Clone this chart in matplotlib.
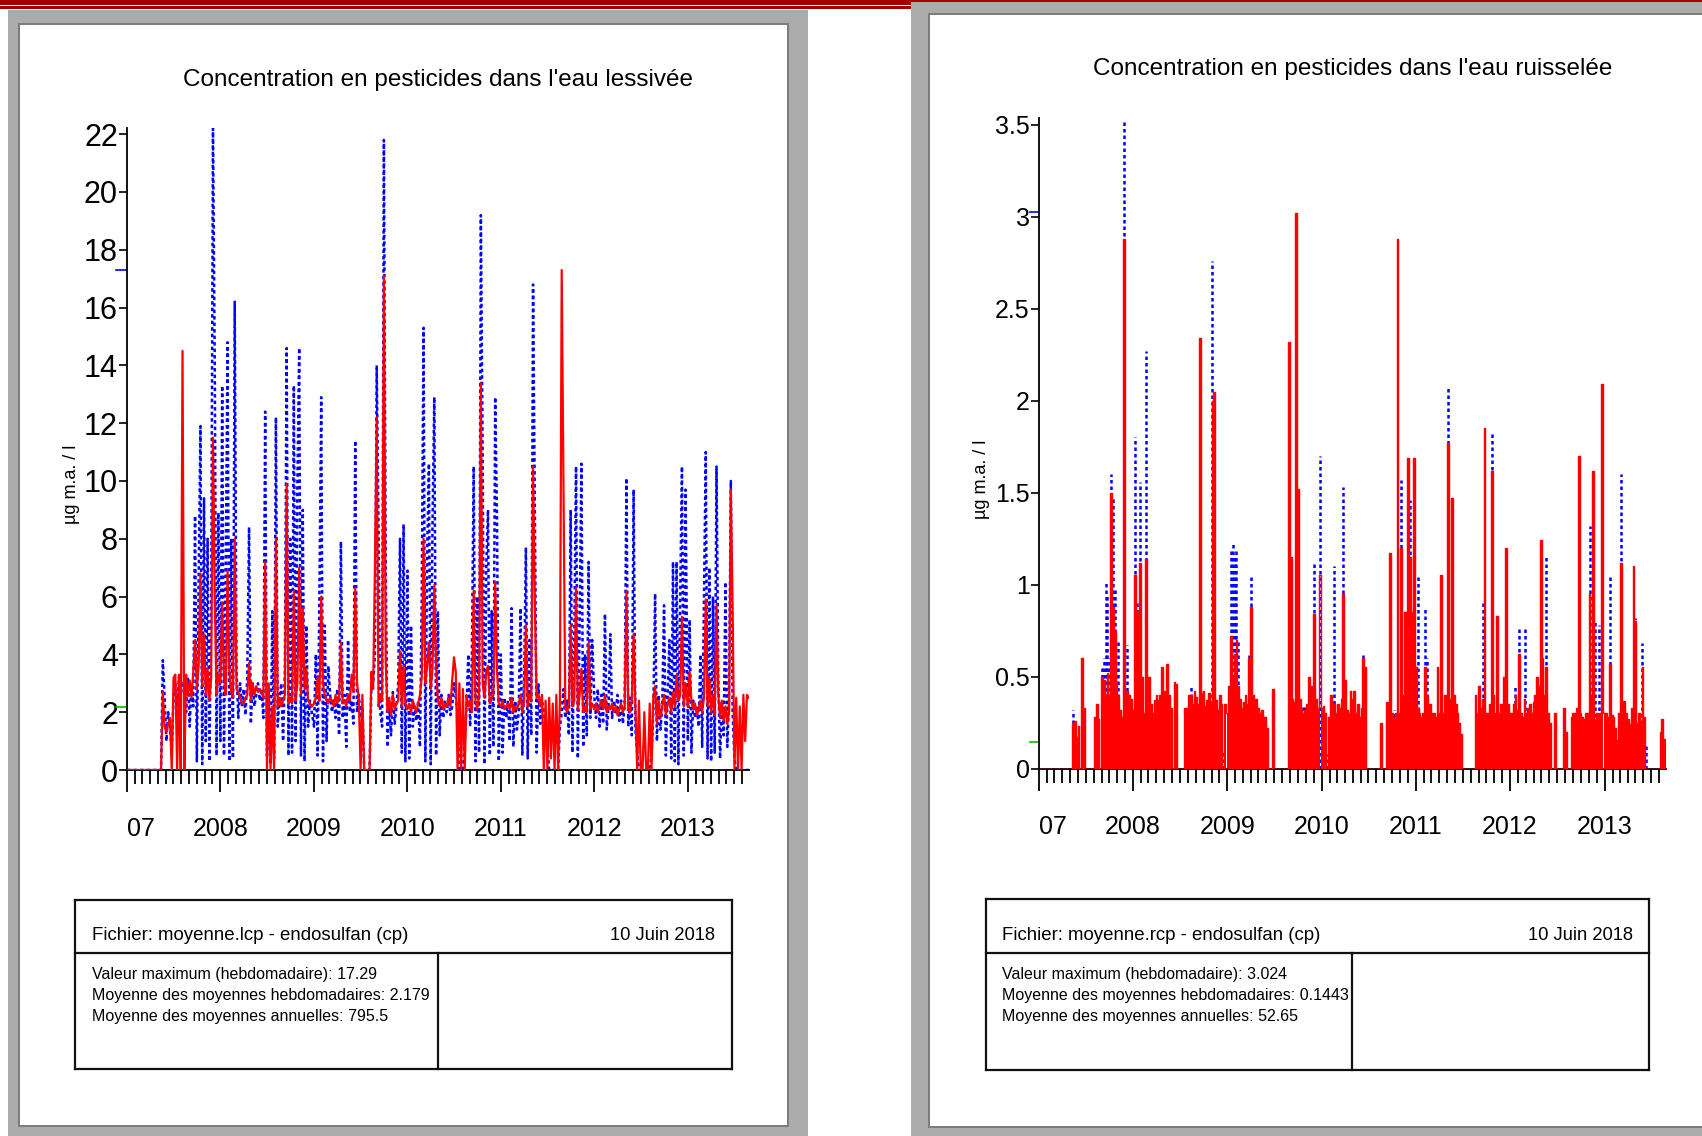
import matplotlib
matplotlib.use('Agg')
import matplotlib.pyplot as plt
import matplotlib.dates as mdates
from matplotlib.patches import Rectangle
from matplotlib.lines import Line2D
import numpy as np

plt.rcParams['font.family'] = ['Liberation Sans', 'DejaVu Sans']

# weekly values, 52 per year from 2007-01-01 (2013: 35 weeks)
lessivee_rouge = [
    # 2007
    0, 0, 0, 0, 0, 0, 0, 0, 0, 0, 0, 0, 0, 0, 0, 0, 0, 0, 0, 0,
    2.7, 1.5, 1.3, 1.6, 1.8, 0, 3.2, 3.3, 0, 3.3, 0, 14.5, 0,
    3.3, 2.6, 3.1, 2.5, 3.4, 4.5, 2.8, 3.6, 6.8, 2.9, 4.7, 2.6, 3.5, 2.4, 3.2, 11.5, 6.0, 2.6, 3.3,
    # 2008
    3.0, 5.8, 3.2, 2.6, 6.9, 3.4, 2.7, 2.5, 8.0, 2.8, 2.7, 2.5, 2.3, 2.3, 2.5, 2.6, 3.7, 2.4, 3.0, 2.6, 2.9, 2.7, 2.8, 2.7, 2.5, 7.2,
    0, 3.0, 0, 2.2, 0, 8.0, 2.2, 2.5, 2.2, 2.4, 2.6, 9.9, 2.3, 2.5, 2.3, 6.2, 2.4, 3.0, 7.0, 2.6, 5.6, 2.8, 3.5, 2.4, 2.3, 2.2,
    # 2009
    2.3, 2.5, 3.2, 2.4, 6.0, 3.0, 2.6, 2.4, 2.3, 2.5, 2.4, 2.2, 2.6, 2.3, 2.5, 4.4, 2.3, 2.4, 2.2, 2.6, 2.4, 3.3, 2.7, 6.3, 3.0, 2.5,
    0, 2.6, 0, 0, 0, 0, 3.4, 2.8, 7.0, 12.2, 2.2, 2.6, 2.4, 17.1, 3.8, 2.0, 2.5, 1.9, 2.6, 2.1, 2.3, 2.4, 4.1, 2.2, 3.6, 2.3,
    # 2010
    2.1, 2.3, 2.0, 2.4, 2.2, 2.0, 2.3, 2.6, 3.2, 8.0, 3.0, 3.6, 4.4, 2.8, 3.5, 6.4, 3.6, 2.4, 2.2, 2.5, 2.1, 2.3, 2.2, 2.5, 2.2, 3.1,
    3.9, 3.4, 0, 3.0, 0, 2.8, 0, 2.6, 2.2, 2.4, 2.0, 6.2, 2.4, 2.1, 2.6, 13.4, 3.0, 2.5, 3.4, 3.6, 2.3, 2.5, 2.6, 6.5, 3.5, 2.3,
    # 2011
    2.2, 2.4, 2.1, 2.2, 2.3, 2.1, 2.5, 2.0, 2.2, 2.1, 2.3, 2.6, 2.0, 2.4, 5.0, 2.2, 2.6, 2.4, 10.5, 5.8, 2.5, 2.6, 2.2, 2.6, 0, 2.4,
    0, 2.5, 0.4, 2.3, 0, 2.6, 0, 2.4, 17.3, 9.7, 2.2, 2.0, 2.3, 5.0, 2.2, 2.4, 6.3, 2.1, 2.6, 3.5, 2.0, 2.2, 2.0, 4.4, 2.1, 2.3,
    # 2012
    2.1, 2.3, 2.0, 2.2, 2.4, 2.1, 2.6, 2.0, 2.2, 2.1, 2.3, 2.0, 2.2, 1.9, 2.1, 2.3, 2.0, 2.2, 6.2, 2.1, 2.0, 2.4, 4.7, 2.2, 0, 2.4,
    0, 0, 2.0, 0, 0, 2.3, 0, 2.5, 2.9, 1.6, 2.4, 1.8, 2.2, 2.6, 1.9, 2.3, 2.5, 2.0, 2.7, 2.2, 3.3, 2.4, 2.6, 5.3, 2.2, 3.0,
    # 2013
    2.2, 3.4, 2.4, 2.1, 2.3, 1.9, 2.1, 2.4, 2.0, 2.5, 5.9, 2.2, 3.2, 2.0, 2.6, 1.9, 5.7, 2.6, 1.8, 2.4, 1.7, 2.2, 1.6, 2.0, 9.7, 5.6,
    0, 2.5, 0, 2.2, 0, 2.6, 1.0, 2.6, 2.5,
]

lessivee_bleu = [
    # 2007
    0, 0, 0, 0, 0, 0, 0, 0, 0, 0, 0, 0, 0, 0, 0, 0, 0, 0, 0, 0,
    3.8, 2.5, 1.0, 2.0, 1.5, 0.6, 2.6, 3.0, 2.2, 3.2, 2.6, 3.0, 3.0,
    2.0, 3.2, 1.5, 3.0, 2.2, 8.8, 0.3, 6.5, 11.9, 0.2, 9.4, 1.0, 8.0, 0.3, 5.5, 22.2, 14.0, 0.5, 8.9,
    # 2008
    1.0, 13.3, 0.5, 7.0, 14.8, 0.3, 8.0, 0.4, 16.2, 3.5, 1.8, 3.0, 2.2, 2.8, 1.9, 3.2, 8.4, 1.6, 3.0, 2.2, 2.6, 3.0, 2.4, 2.8, 1.8, 12.4,
    0.5, 2.0, 0.2, 5.5, 0.4, 12.2, 1.5, 2.5, 3.0, 1.0, 3.4, 14.6, 0.5, 8.0, 0.6, 13.3, 1.0, 10.0, 14.6, 0.5, 9.0, 0.3, 5.0, 1.5, 2.4, 2.0,
    # 2009
    1.5, 4.0, 0.5, 6.0, 12.9, 0.3, 5.0, 1.0, 3.6, 2.6, 2.0, 2.4, 1.8, 2.8, 1.2, 7.9, 1.8, 2.6, 0.8, 4.5, 2.0, 2.4, 1.6, 11.4, 2.0, 2.6,
    1.8, 2.2, 0, 0, 0, 0, 2.8, 3.0, 4.0, 14.0, 8.5, 2.0, 1.5, 21.8, 7.3, 0.8, 2.2, 1.2, 2.7, 1.6, 2.2, 3.0, 8.0, 0.6, 8.5, 0.3,
    # 2010
    6.9, 0.4, 5.0, 1.5, 2.2, 1.7, 2.4, 0.8, 6.0, 15.3, 0.3, 7.5, 10.6, 0.2, 8.5, 12.9, 0.5, 5.5, 1.2, 2.6, 1.8, 2.4, 2.0, 2.6, 1.9, 2.2,
    3.0, 2.5, 2.0, 0, 0, 0, 1.0, 2.2, 4.0, 1.5, 4.0, 10.5, 0.3, 6.0, 0.6, 19.2, 11.0, 0.2, 7.0, 9.0, 0.5, 5.5, 0.8, 12.9, 8.8, 0.3,
    # 2011
    4.0, 0.6, 2.5, 1.8, 2.4, 1.0, 5.6, 0.8, 2.4, 1.4, 2.0, 5.6, 0.5, 3.0, 7.7, 0.4, 4.5, 1.2, 16.8, 9.1, 0.6, 3.0, 1.6, 2.4, 2.0, 1.5,
    0.8, 0, 0, 0, 0, 0, 0, 1.5, 2.0, 2.8, 1.8, 2.4, 1.2, 9.0, 0.6, 4.5, 10.5, 0.4, 5.0, 10.6, 0.8, 4.0, 1.2, 7.2, 1.8, 4.5,
    # 2012
    2.6, 1.8, 2.8, 1.5, 2.6, 1.6, 5.4, 1.4, 2.2, 4.7, 1.8, 2.4, 2.0, 2.6, 1.7, 2.4, 1.6, 2.2, 10.1, 1.5, 2.5, 1.2, 9.7, 1.4, 0.6, 0,
    0, 0, 0, 0, 0, 0, 0.5, 2.0, 6.1, 1.0, 2.6, 1.4, 2.2, 5.7, 0.5, 2.6, 4.5, 0.4, 7.2, 0.3, 7.2, 0.2, 6.0, 10.5, 0.5, 9.7,
    # 2013
    1.0, 5.2, 0.6, 2.4, 1.8, 2.2, 1.5, 4.0, 0.8, 6.0, 11.0, 0.4, 7.0, 0.3, 6.0, 0.6, 10.5, 3.2, 0.4, 2.4, 1.2, 6.5, 0.8, 2.4, 10.0, 2.0,
    0.4, 0, 0, 0, 0, 0, 0, 0, 0,
]

ruisselee_rouge = [
    # 2007
    0, 0, 0, 0, 0, 0, 0, 0, 0, 0, 0, 0, 0, 0, 0, 0, 0, 0, 0,
    0.25, 0.26, 0.17, 0.23, 0, 0.60, 0.33, 0, 0, 0, 0, 0, 0.28, 0.35, 0.27, 0,
    0.50, 0.48, 0.40, 0.52, 0.40, 1.50, 0.88, 0.75, 0.47, 0.40, 0.32, 0.28, 2.88, 0.30, 0.42, 0.40, 0.38,
    # 2008
    0.32, 1.05, 0.85, 0.35, 1.12, 0.50, 0.30, 1.14, 0.40, 0.50, 0.35, 0.30, 0.37, 0.40, 0.37, 0.40, 0.55, 0.42, 0.36, 0.57, 0.40, 0.33, 0, 0.47, 0.46, 0,
    0, 0, 0, 0.33, 0.33, 0.40, 0.40, 0.35, 0.42, 0.39, 0.35, 2.34, 0.41, 0.42, 0.34, 0.37, 0.41, 0.35, 2.00, 2.05, 0.37, 0.32, 0.40, 0.35, 0, 0.35,
    # 2009
    0.30, 0.45, 0.72, 0.50, 0.62, 0.70, 0.45, 0.38, 0.33, 0.36, 0.40, 0.35, 0.60, 0.88, 0.40, 0.35, 0.38, 0.33, 0.30, 0.32, 0.25, 0.28, 0.22, 0, 0, 0.43,
    0, 0, 0, 0, 0, 0, 0, 0, 2.32, 1.15, 0.38, 0.36, 3.02, 1.52, 0.38, 0.33, 0.30, 0.32, 0.35, 0.50, 0.30, 0.45, 0.84, 0.38, 0.33, 1.05,
    # 2010
    0.33, 0.34, 0.30, 0, 0.28, 0.40, 0.32, 0.35, 0.30, 0.35, 0.33, 0.38, 0.95, 0.48, 0.32, 0.30, 0.42, 0.38, 0.42, 0.30, 0.35, 0.28, 0.33, 0.60, 0.55, 0,
    0, 0, 0, 0, 0, 0, 0, 0.25, 0, 0, 0.36, 0.34, 1.17, 0.30, 0.28, 0.30, 2.88, 0.30, 1.20, 0.40, 0.85, 0.33, 1.69, 1.15, 0.85, 1.69,
    # 2011
    0.55, 0.33, 0.30, 0.28, 0.30, 0.55, 0.40, 0.32, 0.35, 0.30, 0.30, 0.28, 0.55, 0.30, 1.05, 0.30, 0.40, 0.35, 1.77, 0.38, 1.47, 0.40, 0.35, 0.30, 0.25, 0.19,
    0, 0, 0, 0, 0, 0, 0, 0.40, 0.30, 0.45, 0.33, 0.38, 1.85, 0.30, 0.30, 0.35, 1.62, 0.40, 0.30, 0.83, 0.30, 0.35, 0.30, 0.50, 1.20, 0.35,
    # 2012
    0.30, 0.30, 0.35, 0.40, 0.32, 0.62, 0.30, 0.28, 0.38, 0.30, 0.33, 0.35, 0.30, 0.36, 0.40, 0.50, 0.45, 1.24, 0.60, 0.40, 0.55, 0.30, 0.25, 0, 0, 0.30,
    0, 0, 0, 0, 0.33, 0.20, 0, 0, 0.28, 0.30, 0.30, 0.33, 1.70, 0.30, 0.28, 0.27, 0.30, 0.30, 0.95, 0.40, 1.62, 0.27, 0.30, 0.25, 0.30, 2.09,
    # 2013
    0.30, 0.30, 0.28, 0.57, 0.29, 0.28, 0.22, 0.15, 0.30, 1.12, 0.35, 0.36, 0.30, 0.27, 0.24, 0.33, 1.10, 0.80, 0.25, 0.30, 0.26, 0.55, 0.28, 0, 0, 0,
    0, 0, 0, 0, 0, 0.20, 0.27, 0.16, 0,
]

ruisselee_bleu = [
    # 2007
    0, 0, 0, 0, 0, 0, 0, 0, 0, 0, 0, 0, 0, 0, 0, 0, 0, 0, 0,
    0.32, 0, 0, 0, 0, 0, 0, 0, 0, 0, 0, 0, 0, 0, 0, 0,
    0.55, 0.60, 1.02, 0.95, 0.60, 1.60, 1.48, 0.97, 0.55, 0.70, 0, 0, 3.52, 0, 0.67, 0, 0,
    # 2008
    0, 1.80, 0.90, 0, 1.56, 0, 0, 2.27, 0, 0, 0, 0, 0, 0, 0, 0, 0, 0, 0, 0, 0, 0, 0, 0, 0, 0,
    0, 0, 0, 0, 0, 0, 0.45, 0, 0, 0, 0, 0, 0, 0, 0, 0, 0, 0, 2.76, 0, 0, 0, 0, 0, 0.10, 0,
    # 2009
    0, 0, 1.20, 1.22, 1.15, 1.20, 0.70, 0, 0, 0, 0, 0, 0.62, 1.05, 0, 0, 0, 0, 0, 0, 0, 0, 0, 0, 0, 0,
    0, 0, 0, 0, 0, 0, 0, 0, 2.32, 0, 0, 0, 0, 0, 0, 0, 0.35, 0.35, 0, 0.44, 0, 0, 1.13, 0, 0, 1.70,
    # 2010
    0, 0, 0, 0.08, 0, 0, 0, 1.10, 0, 0, 0, 0, 1.53, 0, 0, 0, 0, 0, 0, 0, 0, 0, 0, 0.62, 0, 0,
    0, 0, 0, 0, 0, 0, 0, 0, 0, 0, 0, 0, 0, 0, 0.32, 0, 0, 0, 1.57, 0, 0, 0, 0, 1.46, 0, 0.80,
    # 2011
    0, 1.05, 0, 0, 0, 0.87, 0.60, 0, 0, 0, 0, 0, 0, 0, 0, 0, 0, 0, 2.08, 0, 0, 0, 0, 0, 0, 0,
    0, 0, 0, 0, 0, 0, 0, 0, 0, 0, 0, 0.90, 0, 0, 0, 0, 1.82, 0, 0, 0, 0, 0, 0, 0, 0, 0,
    # 2012
    0, 0, 0, 0.45, 0, 0.77, 0, 0, 0.77, 0, 0, 0, 0, 0, 0, 0, 0, 0, 0, 0, 1.16, 0, 0, 0, 0, 0,
    0, 0, 0, 0, 0, 0, 0, 0, 0, 0, 0, 0, 0, 0, 0, 0.10, 0, 0, 1.32, 0, 0, 0.80, 0, 0.78, 0, 0,
    # 2013
    0, 0, 0, 1.06, 0, 0, 0, 0.16, 0, 1.60, 0, 0.37, 0, 0, 0, 0, 0, 0.82, 0, 0, 0, 0.68, 0, 0.12,
    0, 0, 0, 0, 0, 0, 0, 0, 0, 0, 0,
]

annees = ['07', '2008', '2009', '2010', '2011', '2012', '2013']
titres = ["Concentration en pesticides dans l'eau lessivée",
          "Concentration en pesticides dans l'eau ruisselée"]
fichiers = ['Fichier: moyenne.lcp - endosulfan (cp)',
            'Fichier: moyenne.rcp - endosulfan (cp)']
stats_l = ['Valeur maximum (hebdomadaire): 17.29',
           'Moyenne des moyennes hebdomadaires: 2.179',
           'Moyenne des moyennes annuelles: 795.5']
stats_r = ['Valeur maximum (hebdomadaire): 3.024',
           'Moyenne des moyennes hebdomadaires: 0.1443',
           'Moyenne des moyennes annuelles: 52.65']
max_l, moy_l = 17.29, 2.179
max_r, moy_r = 3.024, 0.1443


def semaines(n):
    return np.array([np.datetime64(f'{2007 + i // 52}-01-01') + np.timedelta64(7 * (i % 52), 'D')
                     for i in range(n)])


W, H = 1702, 1136
fig = plt.figure(figsize=(W / 100, H / 100), dpi=100)


def rect(x0, y0, x1, y1, color, z=0):
    fig.add_artist(Rectangle((x0 / W, 1 - y1 / H), (x1 - x0) / W, (y1 - y0) / H,
                             transform=fig.transFigure, color=color, lw=0, zorder=z))


def line(x0, y0, x1, y1, lw=1.6):
    fig.add_artist(Line2D([x0 / W, x1 / W], [1 - y0 / H, 1 - y1 / H],
                          transform=fig.transFigure, color='#111111', lw=lw, zorder=2))


def txt(x, y, s, **kw):
    fig.text(x / W, 1 - y / H, s, **kw)


# page background
rect(0, 0, 911, 5, '#a40000')
rect(0, 6, 911, 8.5, '#a40000')
rect(911, 0, W, 2, '#a40000')
rect(8, 10, 808, H, '#ababab')
rect(18, 23, 789, 1127, '#7c7c7c')
rect(20, 25, 787, 1125, 'white')
rect(911, 2, W, H, '#ababab')
rect(928, 13, W, 1128, '#7c7c7c')
rect(930, 15, W, 1126, 'white')

xmin, xmax = np.datetime64('2007-01-01'), np.datetime64('2013-08-28')
majors = [np.datetime64(f'{y}-01-01') for y in range(2007, 2014)]


def style_axes(ax, ylab_size, yticks, yticklabels):
    ax.set_facecolor('none')
    ax.set_xlim(xmin, xmax)
    for s in ['top', 'right']:
        ax.spines[s].set_visible(False)
    ax.spines['left'].set_linewidth(1.3)
    ax.spines['bottom'].set_linewidth(1.3)
    ax.set_xticks(majors)
    ax.set_xticklabels(annees)
    ax.xaxis.set_minor_locator(mdates.MonthLocator())
    ax.tick_params(axis='x', which='major', length=16, width=1.3, pad=17.5, labelsize=18)
    ax.tick_params(axis='x', which='minor', length=10, width=1.3)
    ax.get_xticklabels()[0].set_horizontalalignment('left')
    ax.set_yticks(yticks)
    ax.set_yticklabels(yticklabels)
    ax.tick_params(axis='y', length=5.5, width=1.2, pad=1, labelsize=ylab_size)


# left: eau lessivee
axL = fig.add_axes([127 / W, 1 - 770 / H, 622 / W, (770 - 128.4) / H])
dl = semaines(len(lessivee_rouge))
axL.plot(dl, lessivee_bleu, color='blue', lw=1.8, linestyle=(0, (1.4, 1.2)), zorder=2)
axL.plot(dl, lessivee_rouge, color='red', lw=1.6, zorder=3)
axL.set_ylim(0, 22.2)
style_axes(axL, 22, range(0, 23, 2), [str(v) for v in range(0, 23, 2)])
yt = axL.get_yaxis_transform()
axL.plot([-0.018, -0.002], [max_l, max_l], transform=yt, color='blue', lw=1.2, clip_on=False)
axL.plot([-0.018, -0.002], [moy_l, moy_l], transform=yt, color='#00c000', lw=1.2, clip_on=False)

# right: eau ruisselee
axR = fig.add_axes([1038.8 / W, 1 - 768.5 / H, 627.4 / W, 651 / H])
dr = semaines(len(ruisselee_rouge))
bl = np.array(ruisselee_bleu)
axR.vlines(dr[bl > 0], 0, bl[bl > 0], color='blue', lw=1.8, linestyles=(0, (1.4, 1.2)), zorder=2)
axR.bar(dr, ruisselee_rouge, width=7, color='red', lw=0, zorder=3)
axR.plot(dr, ruisselee_rouge, drawstyle='steps-mid', color='red', lw=1.0, zorder=3)
axR.set_ylim(0, 3.54)
yr = np.arange(0, 3.51, 0.5)
style_axes(axR, 18, yr, ['0', '0.5', '1', '1.5', '2', '2.5', '3', '3.5'])
yt = axR.get_yaxis_transform()
axR.plot([-0.014, -0.001], [max_r, max_r], transform=yt, color='blue', lw=1.2, clip_on=False)
axR.plot([-0.014, -0.001], [moy_r, moy_r], transform=yt, color='#00c000', lw=1.2, clip_on=False)

# titles and axis labels
txt(438, 80, titres[0], ha='center', va='center', fontsize=17.5)
txt(1352.5, 69, titres[1], ha='center', va='center', fontsize=17.5)
txt(71.5, 484, 'µg m.a. / l', rotation=90, ha='center', va='center', fontsize=13)
txt(981, 479, 'µg m.a. / l', rotation=90, ha='center', va='center', fontsize=13)

# info boxes
for (x0, x1, xd, y0, y1, fich, stats) in [(75, 731.6, 437.5, 900, 1069, fichiers[0], stats_l),
                                          (985.6, 1649, 1351.5, 899, 1070, fichiers[1], stats_r)]:
    line(x0, y0, x1, y0)
    line(x0, y1, x1, y1)
    line(x0, y0, x0, y1)
    line(x1, y0, x1, y1)
    line(x0, 953, x1, 953)
    line(xd, 953, xd, y1)
    txt(x0 + 16.5, 935.5, fich, ha='left', va='center', fontsize=13.4)
    txt(x1 - 16.5, 935.5, '10 Juin 2018', ha='right', va='center', fontsize=13.2)
    for k, s in enumerate(stats):
        txt(x0 + 16.5, 974.5 + 20.8 * k, s, ha='left', va='center', fontsize=11.5)

fig.savefig('out.png', dpi=100)
